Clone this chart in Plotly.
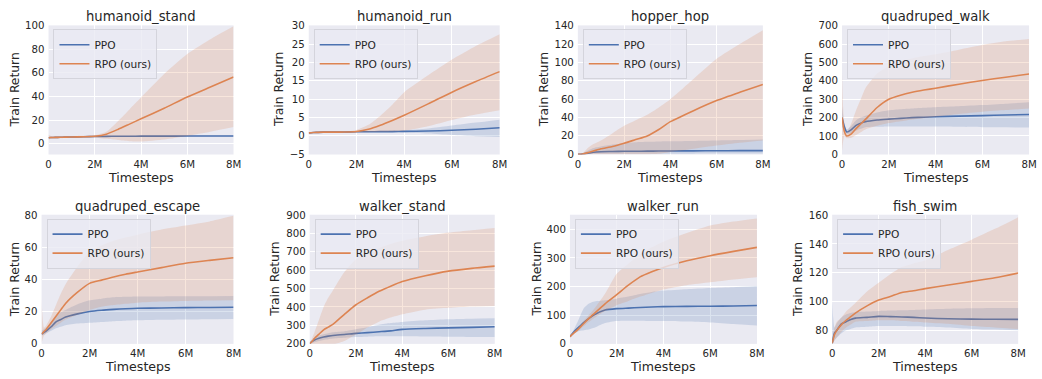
import plotly.graph_objects as go

# Training steps (millions) at which every curve is sampled
STEPS_M = [0, 0.1, 0.2, 0.4, 0.6, 0.8, 1, 1.5, 2, 2.5, 3, 3.5, 4, 5, 6, 7, 8]
X_TICKS = [0, 2, 4, 6, 8]
X_TICK_TEXT = ["0", "2M", "4M", "6M", "8M"]
SERIES = ["PPO", "RPO (ours)"]
TITLES = ["humanoid_stand", "humanoid_run", "hopper_hop", "quadruped_walk",
          "quadruped_escape", "walker_stand", "walker_run", "fish_swim"]

# humanoid_stand
HS_PPO = [5.0, 5.1, 5.2, 5.3, 5.4, 5.5, 5.6, 5.8, 6.0, 6.1, 6.2, 6.2, 6.3, 6.3, 6.4, 6.4, 6.4]
HS_PPO_LO = [4.5, 4.7, 4.8, 5.0, 5.1, 5.2, 5.3, 5.5, 5.7, 5.8, 5.9, 5.9, 6.0, 6.0, 6.0, 6.0, 6.0]
HS_PPO_HI = [5.5, 5.5, 5.6, 5.6, 5.7, 5.8, 5.9, 6.1, 6.3, 6.4, 6.5, 6.5, 6.6, 6.6, 6.8, 6.8, 6.8]
HS_RPO = [5.0, 5.1, 5.2, 5.3, 5.4, 5.5, 5.6, 5.8, 6.2, 8.0, 12.0, 16.5, 21.0, 30.0, 39.5, 48.0, 56.5]
HS_RPO_LO = [3.5, 4.0, 4.3, 4.5, 4.6, 4.7, 4.8, 5.0, 5.0, 4.0, 3.0, 2.0, 1.8, 3.5, 6.5, 10.0, 14.0]
HS_RPO_HI = [7.5, 6.5, 6.3, 6.3, 6.3, 6.3, 6.4, 6.6, 7.0, 10.0, 19.0, 29.0, 39.0, 59.0, 76.0, 88.5, 99.5]

# humanoid_run
HR_PPO = [0.8, 0.85, 0.9, 0.95, 1.0, 1.0, 1.0, 1.05, 1.1, 1.1, 1.15, 1.15, 1.2, 1.3, 1.5, 1.8, 2.2]
HR_PPO_LO = [0.6, 0.7, 0.75, 0.8, 0.85, 0.85, 0.85, 0.9, 0.95, 0.95, 1.0, 0.95, 0.9, 0.6, 0.2, -0.1, -0.3]
HR_PPO_HI = [1.0, 1.0, 1.05, 1.1, 1.15, 1.15, 1.15, 1.2, 1.25, 1.25, 1.3, 1.4, 1.5, 2.0, 2.8, 3.6, 4.4]
HR_RPO = [0.8, 0.85, 0.9, 0.95, 1.0, 1.0, 1.0, 1.05, 1.2, 1.8, 2.9, 4.2, 5.6, 8.7, 11.9, 14.8, 17.5]
HR_RPO_LO = [0.6, 0.7, 0.75, 0.8, 0.85, 0.85, 0.85, 0.9, 0.95, 1.0, 1.1, 1.2, 1.4, 2.6, 4.3, 5.8, 7.0]
HR_RPO_HI = [1.0, 1.0, 1.05, 1.1, 1.15, 1.15, 1.15, 1.2, 1.6, 3.0, 5.5, 8.5, 11.9, 16.5, 20.8, 24.5, 27.7]

# hopper_hop
HH_PPO = [0, 0, 0.3, 1.0, 2.0, 2.5, 2.8, 3.0, 3.2, 3.3, 3.4, 3.5, 3.6, 3.7, 3.8, 3.9, 4.0]
HH_PPO_LO = [0, 0, 0, 0.2, 0.4, 0.5, 0.5, 0.5, 0.5, 0.5, 0.5, 0.6, 0.6, 0.6, 0.7, 0.7, 0.8]
HH_PPO_HI = [0, 0, 1.0, 3.5, 6.0, 7.5, 8.5, 10.5, 12.0, 13.0, 13.5, 14.0, 14.2, 14.5, 15.0, 15.5, 16.0]
HH_RPO = [0, 0, 0.3, 1.5, 3.0, 4.5, 6.0, 8.5, 12.0, 16.0, 20.0, 27.0, 35.5, 47.5, 58.5, 67.5, 76.0]
HH_RPO_LO = [0, 0, 0, 0, 0, 0, 0, 0, 0, 0, 0, 0.5, 2.5, 6.0, 9.5, 12.5, 15.0]
HH_RPO_HI = [0, 0, 1.0, 6.0, 10.0, 12.5, 15.0, 23.0, 31.0, 37.0, 43.0, 51.0, 60.0, 82.0, 104.0, 120.0, 135.0]

# quadruped_walk
QW_PPO = [200, 150, 122, 135, 158, 170, 178, 187, 192, 196, 200, 202, 205, 208, 211, 214, 217]
QW_PPO_LO = [150, 130, 112, 115, 130, 140, 148, 150, 152, 152, 152, 152, 151, 150, 148, 147, 146]
QW_PPO_HI = [260, 170, 135, 155, 185, 200, 210, 228, 240, 246, 250, 254, 257, 262, 268, 276, 284]
QW_RPO = [200, 125, 100, 112, 140, 165, 190, 255, 300, 322, 338, 350, 360, 382, 402, 420, 437]
QW_RPO_LO = [20, 100, 88, 90, 105, 120, 135, 155, 170, 180, 190, 197, 205, 220, 232, 241, 249]
QW_RPO_HI = [450, 150, 118, 170, 240, 300, 360, 440, 480, 505, 522, 535, 545, 570, 595, 615, 628]

# quadruped_escape
QE_PPO = [6, 7, 8, 10.5, 13.5, 15, 16.5, 18.5, 20, 20.8, 21.3, 21.7, 22, 22.2, 22.4, 22.5, 22.6]
QE_PPO_LO = [5, 5.5, 6.5, 8, 9.5, 10.5, 11.5, 12.5, 13, 13.5, 14, 14.3, 14.5, 14.8, 15, 15.2, 15.3]
QE_PPO_HI = [8, 9, 10, 13, 17, 19.5, 21, 24.5, 27, 28, 28.8, 29.1, 29.3, 29.4, 29.5, 29.5, 29.6]
QE_RPO = [6, 7.5, 9, 13, 17, 21, 25, 32, 37.5, 39.5, 41.5, 43.2, 44.6, 47.3, 50, 51.8, 53.4]
QE_RPO_LO = [0.5, 5, 6.5, 9, 11, 13, 15, 18, 21, 23, 24, 24.8, 25.5, 26.2, 26.6, 26.9, 27.0]
QE_RPO_HI = [28, 10, 11.5, 17, 24, 31, 37, 48, 57, 61, 64, 66, 67.8, 71, 73.5, 76, 79.5]

# walker_stand
WS_PPO = [200, 212, 220, 230, 236, 241, 245, 250, 256, 260, 265, 270, 278, 283, 286, 289, 292]
WS_PPO_LO = [200, 205, 208, 215, 220, 224, 228, 232, 236, 238, 240, 240, 240, 239, 238, 237, 236]
WS_PPO_HI = [200, 218, 232, 245, 252, 257, 262, 268, 279, 290, 303, 312, 318, 327, 333, 336, 338]
WS_RPO = [200, 212, 228, 252, 275, 290, 305, 360, 412, 450, 485, 513, 538, 570, 595, 610, 622]
WS_RPO_LO = [200, 195, 190, 185, 185, 188, 195, 215, 250, 288, 320, 342, 360, 385, 395, 402, 405]
WS_RPO_HI = [200, 230, 260, 330, 400, 450, 490, 590, 660, 695, 720, 742, 760, 785, 805, 818, 830]

# walker_run
WR_PPO = [25, 35, 45, 60, 75, 88, 100, 118, 123, 125, 127, 129, 130, 131, 131.5, 132.5, 134]
WR_PPO_LO = [22, 30, 38, 45, 48, 50, 55, 73, 80, 81, 81, 80, 80, 78, 75, 69, 64]
WR_PPO_HI = [28, 40, 55, 90, 125, 140, 147, 152, 158, 165, 174, 181, 186, 191, 195, 198, 202]
WR_RPO = [25, 33, 40, 55, 72, 88, 103, 140, 172, 205, 234, 252, 267, 290, 308, 323, 337]
WR_RPO_LO = [22, 30, 36, 48, 62, 76, 88, 115, 135, 150, 165, 178, 190, 205, 215, 225, 233]
WR_RPO_HI = [28, 36, 45, 62, 82, 100, 118, 175, 245, 280, 312, 337, 357, 387, 413, 427, 438]

# fish_swim
FS_PPO = [71, 78, 80, 84.5, 86, 87.5, 88.5, 89, 89.7, 89.5, 89.3, 89, 88.6, 88, 87.8, 87.7, 87.6]
FS_PPO_LO = [70, 73, 75, 78, 80, 81, 82, 82.5, 83, 83, 83, 82.8, 82.5, 82, 81, 80.5, 80]
FS_PPO_HI = [100, 82, 85, 89, 91, 92, 92.5, 93, 93.5, 93.8, 94, 94.2, 94.5, 95, 95.3, 95.5, 95.5]
FS_RPO = [71, 77, 80, 84, 87, 89.5, 92, 97, 101, 103.5, 106.3, 107.5, 109, 111.5, 114, 116.5, 119.8]
FS_RPO_LO = [70, 73, 75, 79, 82, 84, 86, 86.5, 87, 87, 86.5, 86, 85.5, 84.5, 83, 82, 81]
FS_RPO_HI = [72, 82, 86, 89, 93, 96, 99, 107, 113, 119, 124, 126.5, 128.5, 136, 143, 150.5, 158.5]

PPO_RUNS = [(HS_PPO, HS_PPO_LO, HS_PPO_HI), (HR_PPO, HR_PPO_LO, HR_PPO_HI),
            (HH_PPO, HH_PPO_LO, HH_PPO_HI), (QW_PPO, QW_PPO_LO, QW_PPO_HI),
            (QE_PPO, QE_PPO_LO, QE_PPO_HI), (WS_PPO, WS_PPO_LO, WS_PPO_HI),
            (WR_PPO, WR_PPO_LO, WR_PPO_HI), (FS_PPO, FS_PPO_LO, FS_PPO_HI)]
RPO_RUNS = [(HS_RPO, HS_RPO_LO, HS_RPO_HI), (HR_RPO, HR_RPO_LO, HR_RPO_HI),
            (HH_RPO, HH_RPO_LO, HH_RPO_HI), (QW_RPO, QW_RPO_LO, QW_RPO_HI),
            (QE_RPO, QE_RPO_LO, QE_RPO_HI), (WS_RPO, WS_RPO_LO, WS_RPO_HI),
            (WR_RPO, WR_RPO_LO, WR_RPO_HI), (FS_RPO, FS_RPO_LO, FS_RPO_HI)]

# ---- layout (pixel geometry of each panel) ----
W, H = 1042, 379
FONT = "DejaVu Sans"
TEXT = "#262626"
BG = "#EAEAF2"
COLORS = ["#4C72B0", "#DD8452"]
FILLS = ["rgba(76,114,176,0.2)", "rgba(221,132,82,0.2)"]

# plot-area left/right in px, top/bottom in px, y range, y tick step, y-label x center
PANELS = [
    dict(px=(46, 233), py=(21, 154), yr=[-9.3, 100.3], dt=20, t0=0, lx=11.7),
    dict(px=(309, 502), py=(21, 154), yr=[-5.1, 30.1], dt=5, t0=-5, lx=279),
    dict(px=(581, 768), py=(21, 154), yr=[-0.3, 140.4], dt=20, t0=0, lx=547),
    dict(px=(848, 1037), py=(21, 154), yr=[-1, 702], dt=100, t0=0, lx=813.7),
    dict(px=(39, 233), py=(216, 349), yr=[-0.15, 80.2], dt=20, t0=0, lx=12),
    dict(px=(310, 497), py=(216, 349), yr=[199, 902], dt=100, t0=200, lx=275.3),
    dict(px=(573, 762), py=(216, 349), yr=[0, 451], dt=100, t0=0, lx=540),
    dict(px=(838, 1026), py=(216, 349), yr=[70.6, 160.3], dt=20, t0=80, lx=803.3),
]

fig = go.Figure()
layout = dict(
    width=W, height=H, margin=dict(l=0, r=0, t=0, b=0),
    paper_bgcolor="white", plot_bgcolor=BG,
    font=dict(family=FONT, color=TEXT, size=10.2),
    annotations=[],
)

for i, p in enumerate(PANELS):
    k = "" if i == 0 else str(i + 1)
    xa, ya = "x" + k, "y" + k
    leg = "legend" + k
    x0, x1 = p["px"][0] / W, p["px"][1] / W
    y0, y1 = 1 - p["py"][1] / H, 1 - p["py"][0] / H

    for s, run in enumerate([PPO_RUNS[i], RPO_RUNS[i]]):
        mean, lo, hi = run
        fig.add_trace(go.Scatter(
            x=STEPS_M, y=hi, xaxis=xa, yaxis=ya, mode="lines",
            line=dict(width=0, shape="spline", smoothing=0.6),
            showlegend=False, hoverinfo="skip"))
        fig.add_trace(go.Scatter(
            x=STEPS_M, y=lo, xaxis=xa, yaxis=ya, mode="lines",
            line=dict(width=0, shape="spline", smoothing=0.6),
            fill="tonexty", fillcolor=FILLS[s],
            showlegend=False, hoverinfo="skip"))
        fig.add_trace(go.Scatter(
            x=STEPS_M, y=mean, xaxis=xa, yaxis=ya, mode="lines", name=SERIES[s],
            line=dict(color=COLORS[s], width=1.6, shape="spline", smoothing=0.6),
            legend=leg, showlegend=True))

    layout["xaxis" + k] = dict(
        domain=[x0, x1], anchor=ya, range=[0, 8],
        tickvals=X_TICKS, ticktext=X_TICK_TEXT,
        showgrid=True, gridcolor="white", gridwidth=1,
        zeroline=False, showline=False, ticks="", ticklabelstandoff=2,
        tickfont=dict(size=10.2, color=TEXT, family=FONT))
    layout["yaxis" + k] = dict(
        domain=[y0, y1], anchor=xa, range=p["yr"],
        tick0=p["t0"], dtick=p["dt"],
        showgrid=True, gridcolor="white", gridwidth=1,
        zeroline=False, showline=False, ticks="", ticklabelstandoff=3,
        tickfont=dict(size=10.2, color=TEXT, family=FONT))
    layout[leg] = dict(
        x=(p["px"][0] + 5) / W, y=1 - (p["py"][0] + 4) / H,
        xanchor="left", yanchor="top", traceorder="normal",
        bgcolor="rgba(234,234,242,0.8)", bordercolor="#d4d4dc", borderwidth=1,
        font=dict(size=10.6, color=TEXT, family=FONT),
        tracegroupgap=0, itemwidth=30)

    cx = (x0 + x1) / 2
    layout["annotations"].append(dict(
        text=TITLES[i], x=cx, y=1 - (p["py"][0] - 8.7) / H,
        xref="paper", yref="paper", xanchor="center", yanchor="middle",
        showarrow=False, font=dict(size=13.2, color=TEXT, family=FONT)))
    layout["annotations"].append(dict(
        text="Timesteps", x=cx, y=1 - (p["py"][1] + 23.5) / H,
        xref="paper", yref="paper", xanchor="center", yanchor="middle",
        showarrow=False, font=dict(size=12.6, color=TEXT, family=FONT)))
    layout["annotations"].append(dict(
        text="Train Return", x=p["lx"] / W, y=(y0 + y1) / 2,
        xref="paper", yref="paper", xanchor="center", yanchor="middle",
        textangle=-90, showarrow=False,
        font=dict(size=12.3, color=TEXT, family=FONT)))

fig.update_layout(**layout)
fig.write_html("out.html")
